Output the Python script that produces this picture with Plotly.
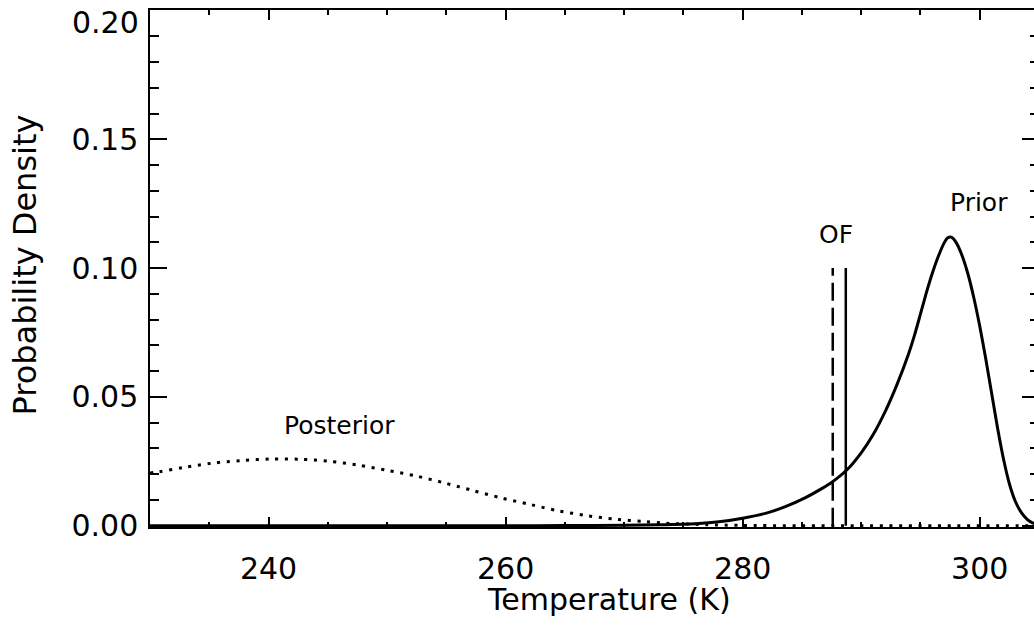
import plotly.graph_objects as go

# ---- data ----
prior_t = [230, 250, 260, 265, 270, 273, 276, 278, 280, 282, 283.6, 285.3, 286.7, 287.5,
           288.8, 290.0, 291.0, 292.0, 293.0, 294.0, 294.5, 295.0, 295.5, 296.0, 296.5,
           297.0, 297.3, 297.6, 298.0, 298.5, 299.0, 299.5, 300.0, 300.5, 301.0, 301.5,
           302.0, 302.5, 303.0, 303.5, 304.0, 304.5, 305.0]
prior_p = [0.0, 0.0, 0.00002, 0.00005, 0.0002, 0.0004, 0.0008, 0.0015, 0.0029, 0.0049,
           0.0074, 0.0109, 0.0145, 0.0168, 0.0217, 0.0283, 0.0353, 0.0441, 0.0546, 0.0668,
           0.0740, 0.0822, 0.0905, 0.0980, 0.1045, 0.1098, 0.1118, 0.1120, 0.1100, 0.1050,
           0.0978, 0.0885, 0.0775, 0.0650, 0.0515, 0.0380, 0.0260, 0.0163, 0.0095, 0.0052,
           0.0025, 0.0010, 0.0004]

post_t = [230, 230.42, 232.84, 235.28, 237.74, 240.21, 242.69, 245.13, 247.59, 250.03,
          252.45, 254.85, 257.21, 259.63, 262.01, 264.43, 266.87, 269.28, 271.75, 273.41,
          277, 280, 285, 305]
post_p = [0.0205, 0.0207, 0.0226, 0.0243, 0.0253, 0.0259, 0.0258, 0.0250, 0.0235, 0.0215,
          0.0193, 0.0166, 0.0137, 0.0108, 0.0083, 0.0058, 0.0039, 0.0025, 0.0016, 0.0010,
          0.0004, 0.0001, 0.0, 0.0]

of_dashed_t = 287.6
of_solid_t = 288.7
of_height = [0.0, 0.10]

labels = ["Prior", "OF", "Posterior"]
label_t = [299.9, 287.9, 246.0]
label_p = [0.1256, 0.1132, 0.039]

x_ticks = [240, 260, 280, 300]
y_ticks = [0.00, 0.05, 0.10, 0.15, 0.20]
y_ticktext = ["0.00", "0.05", "0.10", "0.15", ""]   # top label drawn separately (IDL nudges it down)
top_label = "0.20"
x_range = [230, 305]
y_range = [-0.0005, 0.2002]

x_title = "Temperature (K)"
y_title = "Probability Density"

FONT = "DejaVu Sans"

fig = go.Figure()
fig.add_trace(go.Scatter(x=post_t, y=post_p, mode="lines",
                         line=dict(color="black", width=3, dash="3px,6.7px", shape="spline", smoothing=0.8),
                         hoverinfo="skip"))
fig.add_trace(go.Scatter(x=prior_t, y=prior_p, mode="lines",
                         line=dict(color="black", width=3, shape="spline", smoothing=0.6),
                         hoverinfo="skip"))
fig.add_trace(go.Scatter(x=[of_dashed_t, of_dashed_t], y=of_height, mode="lines",
                         line=dict(color="black", width=2.5, dash="18px,7px"), hoverinfo="skip"))
fig.add_trace(go.Scatter(x=[of_solid_t, of_solid_t], y=of_height, mode="lines",
                         line=dict(color="black", width=2.5), hoverinfo="skip"))

for txt, tx, ty in zip(labels, label_t, label_p):
    fig.add_annotation(x=tx, y=ty, text=txt, showarrow=False,
                       font=dict(family=FONT, size=25, color="black"))

# top y tick label
fig.add_annotation(xref="paper", yref="y", x=0, y=y_ticks[-1], text=top_label, showarrow=False,
                   xanchor="right", yanchor="middle", xshift=-9, yshift=-12,
                   font=dict(family=FONT, size=30, color="black"))

# axis titles placed as paper-anchored annotations
fig.add_annotation(xref="paper", yref="paper", x=0.516, y=-0.14, text=x_title,
                   showarrow=False, xanchor="center", yanchor="middle",
                   font=dict(family=FONT, size=30, color="black"))
fig.add_annotation(xref="paper", yref="paper", x=-0.141, y=0.507, text=y_title,
                   showarrow=False, xanchor="center", yanchor="middle", textangle=-90,
                   font=dict(family=FONT, size=32, color="black"))

fig.update_layout(
    width=1042, height=628,
    margin=dict(l=150, r=1, t=10, b=101),
    paper_bgcolor="white", plot_bgcolor="white",
    showlegend=False,
    font=dict(family=FONT, color="black"),
)
fig.update_xaxes(
    range=x_range, tickmode="array", tickvals=x_ticks, ticks="inside", ticklen=10, tickwidth=1.5,
    tickcolor="black", showline=True, linecolor="black", linewidth=1.5, mirror="ticks",
    showgrid=False, zeroline=False,
    minor=dict(dtick=5, tick0=0, ticks="inside", ticklen=5, tickwidth=1.5, tickcolor="black", showgrid=False),
    tickfont=dict(family=FONT, size=30, color="black"), ticklabelstandoff=14,
)
fig.update_yaxes(
    range=y_range, tickmode="array", tickvals=y_ticks, ticktext=y_ticktext, ticks="inside", ticklen=17,
    tickwidth=1.5, tickcolor="black", showline=True, linecolor="black", linewidth=1.5, mirror="ticks",
    showgrid=False, zeroline=False,
    minor=dict(dtick=0.01, tick0=0, ticks="inside", ticklen=9, tickwidth=1.5, tickcolor="black", showgrid=False),
    tickfont=dict(family=FONT, size=30, color="black"), ticklabelstandoff=4,
)

fig.write_html("out.html",
               post_script="document.documentElement.style.overflow='hidden';document.body.style.overflow='hidden';")
